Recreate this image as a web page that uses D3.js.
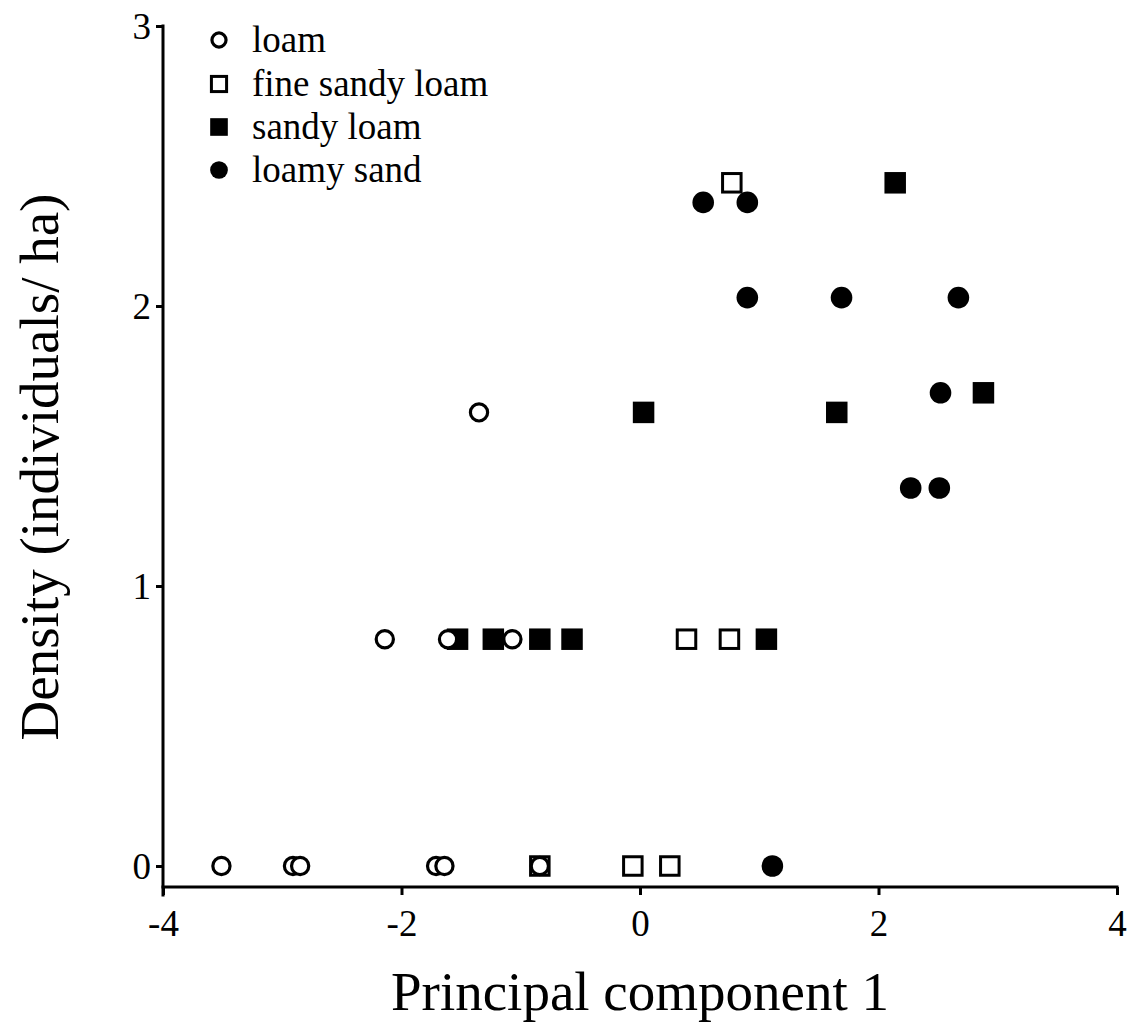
<!DOCTYPE html>
<html>
<head>
<meta charset="utf-8">
<script src="https://cdn.jsdelivr.net/npm/d3@7"></script>
<style>
  html, body { margin: 0; padding: 0; background: #fff; }
  svg { display: block; }
  text { font-family: "Liberation Serif", "Times New Roman", serif; fill: #000; }
</style>
</head>
<body>
<svg id="chart" width="1134" height="1025"></svg>
<script>
// Soil texture classes (legend order) and their marker styles
const soilTypes = ["loam", "fine sandy loam", "sandy loam", "loamy sand"];

// Principal component 1 score and density (individuals/ha) for each site
const loamPC1 = [-3.51, -2.91, -2.85, -1.71, -1.64, -0.84, -2.14, -1.61, -1.07, -1.35];
const loamDensity = [0, 0, 0, 0, 0, 0, 0.81, 0.81, 0.81, 1.62];

const fineSandyLoamPC1 = [-0.84, -0.06, 0.25, 0.39, 0.75, 0.77];
const fineSandyLoamDensity = [0, 0, 0, 0.81, 0.81, 2.44];

const sandyLoamPC1 = [-1.53, -1.23, -0.84, -0.57, 1.06, 0.03, 1.65, 2.88, 2.14];
const sandyLoamDensity = [0.81, 0.81, 0.81, 0.81, 0.81, 1.62, 1.62, 1.69, 2.44];

const loamySandPC1 = [1.11, 0.53, 0.90, 0.90, 1.69, 2.67, 2.52, 2.27, 2.51];
const loamySandDensity = [0, 2.37, 2.37, 2.03, 2.03, 2.03, 1.69, 1.35, 1.35];

const xTicks = [-4, -2, 0, 2, 4];
const yTicks = [0, 1, 2, 3];

const svg = d3.select("#chart");

const x = d3.scaleLinear().domain([-4, 4]).range([163, 1117]);
const y = d3.scaleLinear().domain([-0.075, 3]).range([887, 26]);

// Axes
const xAxis = svg.append("g")
  .attr("transform", `translate(0,${y(-0.075)})`)
  .call(d3.axisBottom(x).tickValues(xTicks).tickSize(8).tickPadding(6)
    .tickFormat(d => d < 0 ? "-" + Math.abs(d) : String(d)));
const yAxis = svg.append("g")
  .attr("transform", `translate(${x(-4)},0)`)
  .call(d3.axisLeft(y).tickValues(yTicks).tickSize(7).tickPadding(5)
    .tickFormat(d => String(d)));

[xAxis, yAxis].forEach(g => {
  g.select(".domain").attr("stroke", "#000").attr("stroke-width", 3)
    .attr("stroke-linecap", "square");
  g.selectAll(".tick line").attr("stroke", "#000").attr("stroke-width", 3);
  g.selectAll(".tick text")
    .style("font-family", "'Liberation Serif', 'Times New Roman', serif")
    .style("font-size", "37px").attr("fill", "#000");
});
// plain spine ends (no outer ticks)
xAxis.select(".domain").attr("d", `M${x(-4)},0H${x(4)}`);
yAxis.select(".domain").attr("d", `M0,${y(3)}V${y(-0.075) + 8}`);
xAxis.selectAll(".tick text").attr("dy", "0.95em");
yAxis.selectAll(".tick text").attr("dy", "0.34em");

// Axis titles
svg.append("text")
  .attr("x", 640).attr("y", 1010)
  .attr("text-anchor", "middle")
  .style("font-size", "55px")
  .text("Principal component 1");
svg.append("text")
  .attr("transform", "translate(58,467) rotate(-90)")
  .attr("text-anchor", "middle")
  .style("font-size", "55px")
  .text("Density (individuals/ ha)");

// Marker drawing helpers
function openSquare(g, cx, cy, s) {
  g.append("rect").attr("x", cx - s / 2).attr("y", cy - s / 2)
    .attr("width", s).attr("height", s)
    .attr("fill", "#fff").attr("stroke", "#000").attr("stroke-width", 3);
}
function filledSquare(g, cx, cy, s) {
  g.append("rect").attr("x", cx - s / 2).attr("y", cy - s / 2)
    .attr("width", s).attr("height", s).attr("fill", "#000");
}
function openCircle(g, cx, cy, r) {
  g.append("circle").attr("cx", cx).attr("cy", cy).attr("r", r)
    .attr("fill", "#fff").attr("stroke", "#000").attr("stroke-width", 3.2);
}
function filledCircle(g, cx, cy, r) {
  g.append("circle").attr("cx", cx).attr("cy", cy).attr("r", r).attr("fill", "#000");
}

const marks = svg.append("g");
const draw = {
  "loam": (g, cx, cy, k) => openCircle(g, cx, cy, 8.6 * k),
  "fine sandy loam": (g, cx, cy, k) => openSquare(g, cx, cy, 18.5 * k),
  "sandy loam": (g, cx, cy, k) => filledSquare(g, cx, cy, 21.5 * k),
  "loamy sand": (g, cx, cy, k) => filledCircle(g, cx, cy, 10.8 * k)
};

// squares first, circles on top
const series = [
  ["fine sandy loam", fineSandyLoamPC1, fineSandyLoamDensity],
  ["sandy loam", sandyLoamPC1, sandyLoamDensity],
  ["loam", loamPC1, loamDensity],
  ["loamy sand", loamySandPC1, loamySandDensity]
];
series.forEach(([name, xs, ys]) => {
  xs.forEach((v, i) => draw[name](marks, x(v), y(ys[i]), 1));
});

// Legend
const legend = svg.append("g");
const legendY = [40, 84, 127, 170];
soilTypes.forEach((name, i) => {
  draw[name](legend, 219, legendY[i], 0.82);
  legend.append("text")
    .attr("x", 252).attr("y", legendY[i])
    .attr("dy", "0.32em")
    .style("font-size", "37px")
    .text(name);
});
</script>
</body>
</html>
